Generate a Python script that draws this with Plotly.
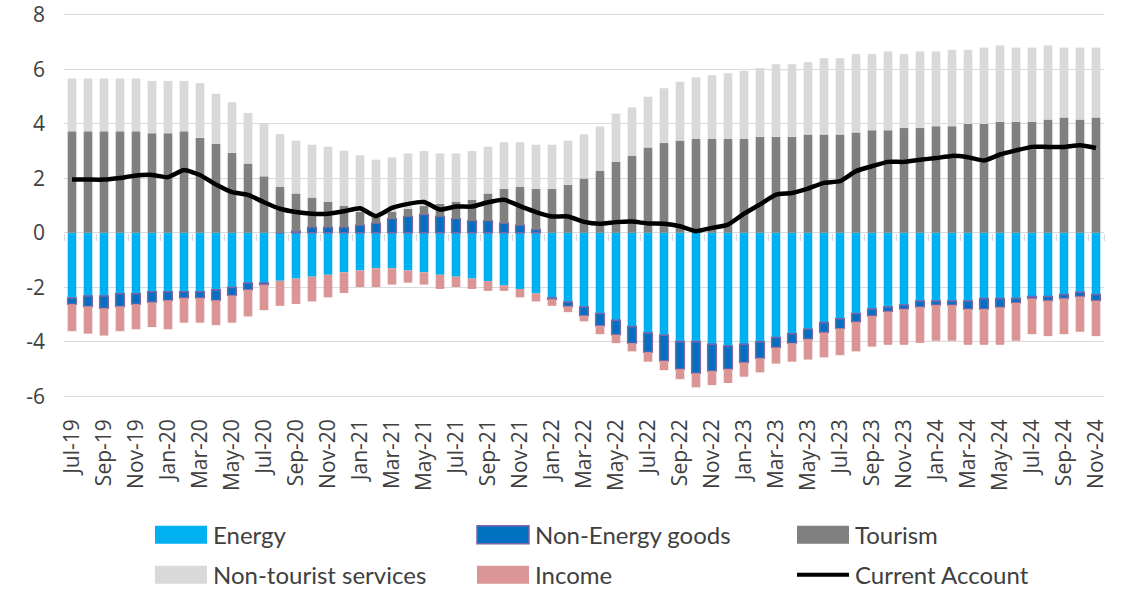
import plotly.graph_objects as go

months = ["Jul-19","Aug-19","Sep-19","Oct-19","Nov-19","Dec-19",
          "Jan-20","Feb-20","Mar-20","Apr-20","May-20","Jun-20","Jul-20","Aug-20","Sep-20","Oct-20","Nov-20","Dec-20",
          "Jan-21","Feb-21","Mar-21","Apr-21","May-21","Jun-21","Jul-21","Aug-21","Sep-21","Oct-21","Nov-21","Dec-21",
          "Jan-22","Feb-22","Mar-22","Apr-22","May-22","Jun-22","Jul-22","Aug-22","Sep-22","Oct-22","Nov-22","Dec-22",
          "Jan-23","Feb-23","Mar-23","Apr-23","May-23","Jun-23","Jul-23","Aug-23","Sep-23","Oct-23","Nov-23","Dec-23",
          "Jan-24","Feb-24","Mar-24","Apr-24","May-24","Jun-24","Jul-24","Aug-24","Sep-24","Oct-24","Nov-24"]

energy = [-2.39,-2.32,-2.32,-2.24,-2.24,-2.16,-2.16,-2.16,-2.16,-2.09,-2.01,-1.84,-1.84,-1.76,-1.68,-1.61,-1.54,-1.45,
          -1.38,-1.30,-1.30,-1.38,-1.45,-1.54,-1.61,-1.68,-1.77,-1.93,-2.06,-2.22,
          -2.39,-2.54,-2.72,-2.96,-3.21,-3.44,-3.68,-3.76,-3.99,-3.99,-4.09,-4.15,
          -4.09,-4.00,-3.84,-3.70,-3.54,-3.29,-3.15,-2.96,-2.80,-2.72,-2.65,-2.50,
          -2.50,-2.50,-2.50,-2.41,-2.41,-2.41,-2.34,-2.34,-2.26,-2.18,-2.26]

non_energy_goods = [-0.23,-0.38,-0.45,-0.46,-0.38,-0.39,-0.32,-0.23,-0.23,-0.39,-0.29,-0.25,-0.07,0.00,0.06,0.20,0.20,0.20,
                    0.28,0.35,0.51,0.60,0.67,0.60,0.51,0.44,0.44,0.35,0.28,0.12,
                    -0.05,-0.16,-0.32,-0.45,-0.53,-0.61,-0.70,-0.94,-1.01,-1.16,-0.98,-0.85,
                    -0.67,-0.60,-0.37,-0.35,-0.36,-0.37,-0.36,-0.31,-0.25,-0.17,-0.15,-0.22,
                    -0.15,-0.15,-0.30,-0.39,-0.32,-0.16,-0.07,-0.15,-0.15,-0.16,-0.23]

tourism = [3.72,3.72,3.72,3.72,3.72,3.65,3.65,3.72,3.48,3.26,2.93,2.54,2.07,1.68,1.38,1.09,0.93,0.78,
           0.48,0.22,0.25,0.28,0.31,0.46,0.62,0.77,1.00,1.26,1.40,1.49,
           1.61,1.76,1.99,2.28,2.60,2.83,3.13,3.29,3.38,3.45,3.45,3.45,
           3.45,3.52,3.52,3.52,3.60,3.60,3.60,3.68,3.76,3.76,3.84,3.84,
           3.91,3.91,4.00,4.00,4.07,4.07,4.07,4.15,4.23,4.15,4.23]

non_tourist_services = [1.94,1.94,1.94,1.94,1.94,1.92,1.92,1.85,2.01,1.84,1.86,1.85,1.92,1.94,1.94,1.94,2.03,2.03,
                        2.08,2.11,2.00,2.03,2.02,1.85,1.78,1.79,1.72,1.71,1.64,1.62,
                        1.62,1.62,1.62,1.62,1.77,1.77,1.86,2.01,2.16,2.25,2.33,2.40,
                        2.49,2.52,2.66,2.66,2.66,2.80,2.80,2.88,2.80,2.89,2.72,2.81,
                        2.74,2.80,2.71,2.79,2.80,2.72,2.72,2.72,2.56,2.64,2.56]

income = [-0.99,-1.00,-1.00,-0.91,-0.92,-0.91,-1.06,-0.91,-0.91,-0.91,-1.00,-0.98,-0.93,-0.92,-0.93,-0.91,-0.83,-0.76,
          -0.61,-0.69,-0.60,-0.45,-0.45,-0.52,-0.38,-0.38,-0.36,-0.20,-0.31,-0.30,
          -0.24,-0.21,-0.21,-0.31,-0.31,-0.30,-0.35,-0.34,-0.37,-0.52,-0.52,-0.51,
          -0.52,-0.52,-0.59,-0.68,-0.75,-0.91,-0.98,-1.08,-1.13,-1.22,-1.31,-1.32,
          -1.31,-1.31,-1.31,-1.31,-1.38,-1.39,-1.31,-1.30,-1.31,-1.29,-1.30]

current_account = [1.95,1.95,1.95,2.01,2.10,2.12,2.04,2.30,2.12,1.77,1.49,1.39,1.12,0.88,0.76,0.70,0.70,0.79,
                   0.90,0.61,0.91,1.06,1.13,0.85,0.96,0.96,1.12,1.21,0.98,0.76,
                   0.60,0.60,0.40,0.33,0.39,0.41,0.34,0.33,0.24,0.06,0.18,0.30,
                   0.70,1.04,1.40,1.46,1.62,1.83,1.89,2.26,2.44,2.60,2.60,2.68,
                   2.74,2.82,2.77,2.65,2.87,3.02,3.15,3.15,3.15,3.21,3.11]

y_ticks = [-6, -4, -2, 0, 2, 4, 6, 8]
y_tick_labels = ["-6", "-4", "-2", "0", "2", "4", "6", "8"]
x_tick_labels = months[::2]

C_ENERGY = "#00B0F0"
C_NEG = "#0070C0"
C_NEG_EDGE = "#7F63A8"
C_TOUR = "#808080"
C_SERV = "#D9D9D9"
C_INC = "#DA9694"
GRID = "#D9D9D9"
TXT = "#404040"

W, H = 1122, 589
L, R = 64, 18
T, B = 13.4, 191.4
PW, PH = W - L - R, H - T - B
Y_LO, Y_HI = -6.06, 8.06

fig = go.Figure()
fig.add_trace(go.Bar(x=months, y=energy, name="Energy", marker=dict(color=C_ENERGY, line=dict(width=0))))
fig.add_trace(go.Bar(x=months, y=non_energy_goods, name="Non-Energy goods",
                     marker=dict(color=C_NEG, line=dict(color=C_NEG_EDGE, width=1.5))))
fig.add_trace(go.Bar(x=months, y=tourism, name="Tourism", marker=dict(color=C_TOUR, line=dict(width=0))))
fig.add_trace(go.Bar(x=months, y=non_tourist_services, name="Non-tourist services",
                     marker=dict(color=C_SERV, line=dict(width=0))))
fig.add_trace(go.Bar(x=months, y=income, name="Income", marker=dict(color=C_INC, line=dict(width=0))))
fig.add_trace(go.Scatter(x=months, y=current_account, name="Current Account", mode="lines", xaxis="x2",
                         line=dict(color="black", width=4.5, shape="spline", smoothing=0.5)))

fig.update_traces(showlegend=False)

fig.update_layout(
    width=W, height=H,
    margin=dict(l=L, r=R, t=T, b=B, autoexpand=False),
    paper_bgcolor="white", plot_bgcolor="white",
    barmode="relative", bargap=0.46,
    font=dict(family="Open Sans", color=TXT),
    showlegend=False,
    xaxis=dict(type="category", tickmode="array", tickvals=x_tick_labels, ticktext=x_tick_labels,
               tickangle=-90, tickfont=dict(size=21, color=TXT), showgrid=False, showline=False,
               ticks="", ticklabelstandoff=16, range=[-0.5, len(months) - 0.5], automargin=False),
    xaxis2=dict(type="category", overlaying="x", matches="x", anchor="free", position=(0 - Y_LO) / (Y_HI - Y_LO),
                tickmode="array", tickvals=x_tick_labels, tickson="boundaries",
                ticks="outside", ticklen=7, tickwidth=1.3, tickcolor=GRID,
                showticklabels=False, showgrid=False, showline=False, automargin=False),
    yaxis=dict(range=[Y_LO, Y_HI], tickmode="array", tickvals=y_ticks, ticktext=y_tick_labels,
               tickfont=dict(size=21, color=TXT), showgrid=True, gridcolor=GRID, gridwidth=1.3,
               zeroline=True, zerolinecolor=GRID, zerolinewidth=1.3, showline=False, ticks="",
               ticklabelstandoff=18, ticklabeloverflow="allow", automargin=False),
)

# Legend drawn as a 3x2 grid under the chart (pixel positions)
def px(x):
    return (x - L) / PW

def py(y):
    return (H - B - y) / PH

legend_items = [
    ("Energy", "bar", C_ENERGY, None, 0, 0),
    ("Non-Energy goods", "bar", C_NEG, C_NEG_EDGE, 1, 0),
    ("Tourism", "bar", C_TOUR, None, 2, 0),
    ("Non-tourist services", "bar", C_SERV, None, 0, 1),
    ("Income", "bar", C_INC, None, 1, 1),
    ("Current Account", "line", "black", None, 2, 1),
]
col_x = [155, 477, 797]
row_y = [534, 574]
sw_w, sw_h = 52, 18
for label, kind, color, edge, c, r in legend_items:
    x0 = col_x[c]
    yc = row_y[r]
    if kind == "bar":
        fig.add_shape(type="rect", xref="paper", yref="paper",
                      x0=px(x0), x1=px(x0 + sw_w), y0=py(yc + sw_h / 2), y1=py(yc - sw_h / 2),
                      fillcolor=color, line=dict(color=edge if edge else color, width=1.5 if edge else 0),
                      layer="above")
    else:
        fig.add_shape(type="line", xref="paper", yref="paper",
                      x0=px(x0), x1=px(x0 + sw_w), y0=py(yc), y1=py(yc),
                      line=dict(color=color, width=4))
    fig.add_annotation(text=label, xref="paper", yref="paper", x=px(x0 + sw_w + 4), y=py(yc),
                       xanchor="left", yanchor="middle", showarrow=False,
                       font=dict(family="Lato", size=24, color=TXT))

# place the figure flush with the page corner (no default body margin); hide the hover toolbar
fig.write_html("out.html", config={"displayModeBar": False},
               post_script="document.body.style.margin='0px';")
